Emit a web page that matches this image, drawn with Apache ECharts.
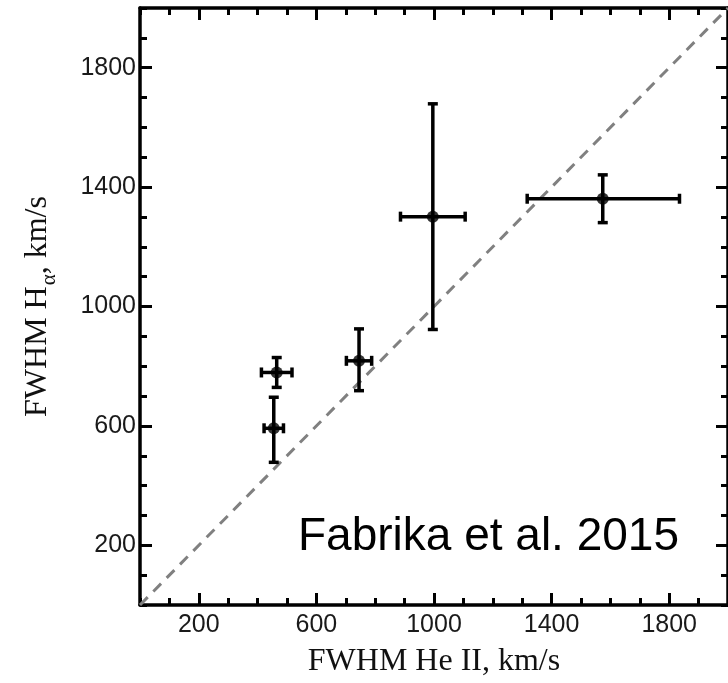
<!DOCTYPE html>
<html><head><meta charset="utf-8">
<script src="https://cdn.jsdelivr.net/npm/echarts@6/dist/echarts.min.js"></script>
<style>html,body{margin:0;padding:0;background:#fff}#c{width:728px;height:683px}</style>
</head><body><div id="c"></div>
<script>
// FWHM He II (km/s) and FWHM H-alpha (km/s) with asymmetric errors
const heII = [455, 465, 745, 996, 1574];
const heIIErrLow = [33, 52, 43, 110, 257];
const heIIErrHigh = [33, 52, 43, 110, 261];
const halpha = [592, 779, 818, 1301, 1361];
const halphaErrLow = [114, 50, 100, 378, 80];
const halphaErrHigh = [104, 50, 107, 378, 80];
const majorTicks = [200, 600, 1000, 1400, 1800];
const oneToOneX = [0, 2000];
const oneToOneY = [0, 2000];
const xTitle = 'FWHM He II, km/s';
const yTitle = '{a|FWHM H}{s|α}{a|, km/s}';
const note = 'Fabrika et al. 2015';

const AX_MIN = 0, AX_MAX = 2000;
const points = heII.map((x, i) => [x, halpha[i]]);
const bars = heII.map((x, i) => [x, halpha[i], x - heIIErrLow[i], x + heIIErrHigh[i], halpha[i] - halphaErrLow[i], halpha[i] + halphaErrHigh[i]]);
const diag = oneToOneX.map((x, i) => [x, oneToOneY[i]]);

const tickFont = {fontFamily: 'Liberation Sans', fontSize: 25, color: '#1a1a1a', formatter: v => String(v)};
function major(pos, labels, extra) {
  return Object.assign({
    type: 'value', position: pos, min: AX_MIN, max: AX_MAX, interval: 100,
    axisLine: {show: true, onZero: false, lineStyle: {color: '#000', width: 3.5}},
    axisTick: {show: true, inside: true, length: 12, customValues: majorTicks, lineStyle: {color: '#000', width: 3}},
    axisLabel: Object.assign({show: labels, customValues: majorTicks}, tickFont),
    splitLine: {show: false}
  }, extra || {});
}
function minor(pos) {
  return {
    type: 'value', position: pos, min: AX_MIN, max: AX_MAX, interval: 100,
    axisLine: {show: false, onZero: false},
    axisTick: {show: true, inside: true, length: 7, lineStyle: {color: '#000', width: 3}},
    axisLabel: {show: false}, splitLine: {show: false}
  };
}

const chart = echarts.init(document.getElementById('c'), null, {renderer: 'canvas'});
chart.setOption({
  animation: false,
  backgroundColor: '#fff',
  grid: {left: 140, top: 8, width: 598, height: 598, containLabel: false},
  xAxis: [
    major('bottom', true, {
      name: xTitle, nameLocation: 'middle', nameGap: 41,
      nameTextStyle: {fontFamily: 'Liberation Serif', fontSize: 32, color: '#111'},
      axisLabel: Object.assign({show: true, customValues: majorTicks, margin: 8}, tickFont)
    }),
    minor('bottom'),
    major('top', false),
    minor('top')
  ],
  yAxis: [
    major('left', true, {
      name: yTitle, nameLocation: 'middle', nameGap: 86, nameRotate: 90,
      nameTextStyle: {
        color: '#111',
        rich: {
          a: {fontFamily: 'Liberation Serif', fontSize: 32, lineHeight: 32, verticalAlign: 'top', color: '#111'},
          s: {fontFamily: 'Liberation Serif', fontSize: 21, lineHeight: 21, verticalAlign: 'top', padding: [17, 0, 0, 1], color: '#111'}
        }
      },
      axisLabel: Object.assign({show: true, customValues: majorTicks, margin: 4}, tickFont)
    }),
    minor('left'),
    major('right', false),
    minor('right')
  ],
  series: [
    {
      type: 'line', xAxisIndex: 0, yAxisIndex: 0, data: diag, symbol: 'none', silent: true, z: 1,
      lineStyle: {color: '#808080', width: 3, type: [11, 8]}
    },
    {
      type: 'custom', xAxisIndex: 0, yAxisIndex: 0, data: bars, z: 3, silent: true,
      renderItem: function (params, api) {
        const x = api.value(0), y = api.value(1);
        const c = api.coord([x, y]);
        const xl = api.coord([api.value(2), y]);
        const xh = api.coord([api.value(3), y]);
        const yl = api.coord([x, api.value(4)]);
        const yh = api.coord([x, api.value(5)]);
        const h = 5;
        const st = {stroke: '#000', lineWidth: 3.5};
        const ln = (x1, y1, x2, y2) => ({type: 'line', shape: {x1, y1, x2, y2}, style: st});
        return {type: 'group', children: [
          ln(xl[0], c[1], xh[0], c[1]),
          ln(c[0], yl[1], c[0], yh[1]),
          ln(xl[0], c[1] - h, xl[0], c[1] + h),
          ln(xh[0], c[1] - h, xh[0], c[1] + h),
          ln(c[0] - h, yl[1], c[0] + h, yl[1]),
          ln(c[0] - h, yh[1], c[0] + h, yh[1])
        ]};
      }
    },
    {
      type: 'scatter', xAxisIndex: 0, yAxisIndex: 0, data: points, symbol: 'circle', symbolSize: 12, z: 4,
      itemStyle: {color: '#000'}
    }
  ],
  graphic: [{
    type: 'text', left: 298, top: 514, z: 10,
    style: {text: note, font: '46px "Liberation Sans"', fill: '#000'}
  }]
});
</script></body></html>
